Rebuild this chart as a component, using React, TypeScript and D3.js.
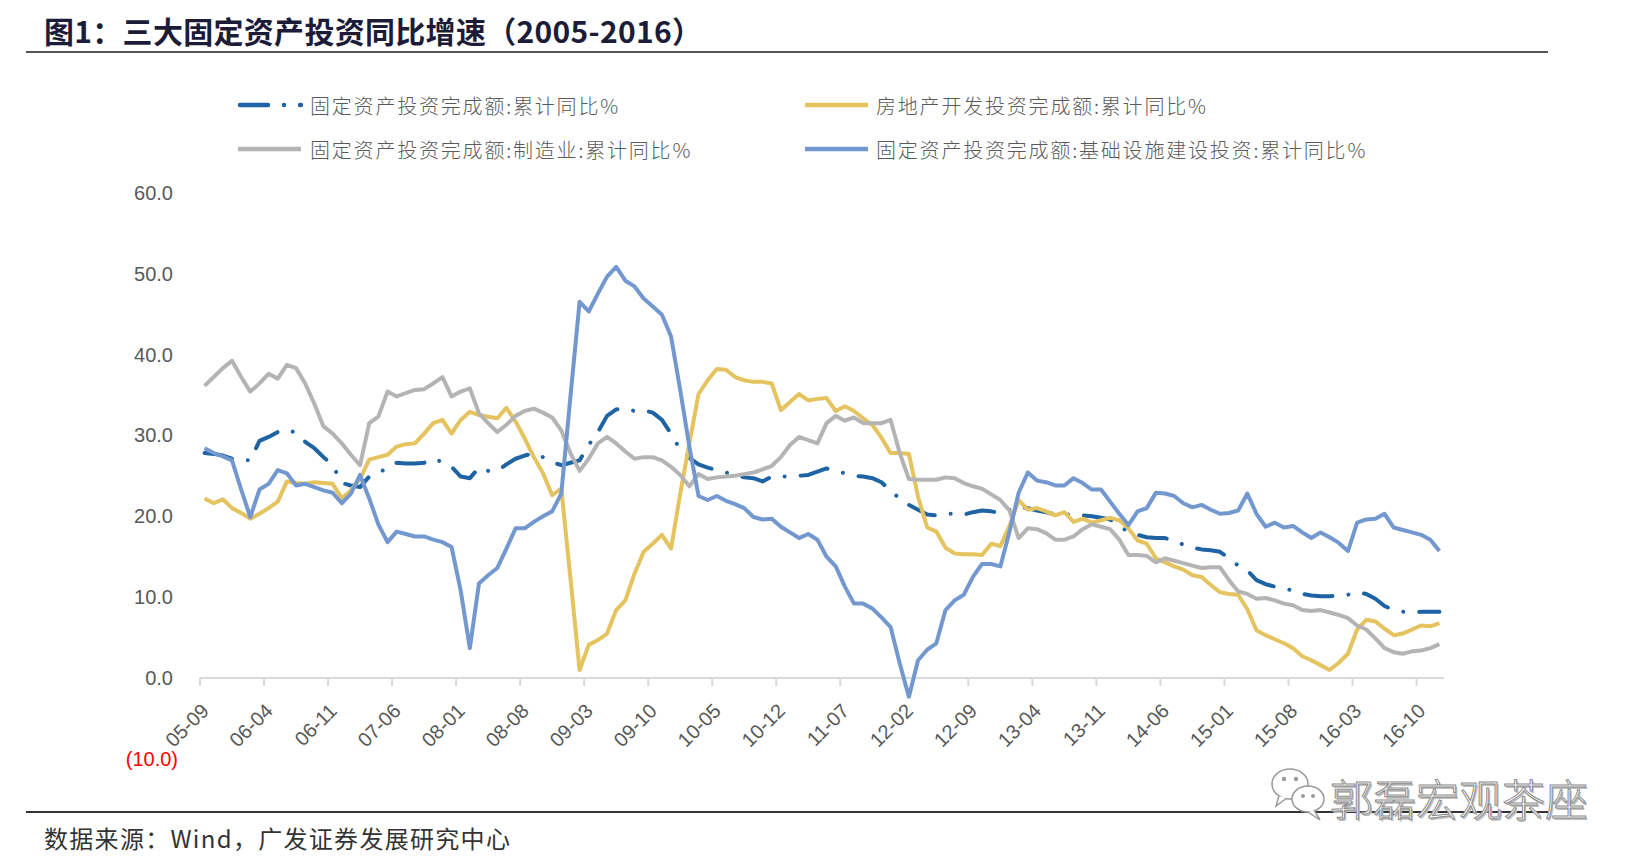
import React from 'react';
import * as d3 from 'd3';

// ---------- categories ----------
const months: string[] = d3.timeMonth
  .range(new Date(2005, 8, 1), new Date(2017, 0, 1))
  .map(d3.timeFormat('%y-%m'));

const tickLabels: string[] = [
  '05-09', '06-04', '06-11', '07-06', '08-01', '08-08', '09-03', '09-10', '10-05', '10-12',
  '11-07', '12-02', '12-09', '13-04', '13-11', '14-06', '15-01', '15-08', '16-03', '16-10',
];

const yTicks: number[] = [60, 50, 40, 30, 20, 10, 0, -10];

// ---------- series (2005-09 .. 2016-12) ----------
const faiTotal: number[] = [
  27.8, 27.7, 27.5, 27.1,
  27.0, 26.9, 29.3, 29.8, 30.4, 30.7, 30.3, 29.2, 28.4, 27.3, 26.3, 24.1,
  23.8, 23.6, 24.9, 25.5, 25.8, 26.6, 26.5, 26.5, 26.6, 27.1, 26.7, 26.1,
  24.9, 24.7, 26.0, 25.6, 25.6, 26.4, 27.1, 27.5, 27.8, 27.3, 26.7, 26.3,
  26.6, 26.9, 28.8, 30.4, 32.4, 33.2, 33.3, 33.0, 33.1, 32.8, 31.9, 30.2,
  28.2, 27.2, 26.4, 26.0, 25.7, 25.4, 25.1, 24.8, 24.7, 24.3, 24.9, 24.9,
  24.9, 25.0, 25.1, 25.5, 25.9, 25.6, 25.3, 25.0, 24.9, 24.7, 24.2, 23.1,
  22.2, 21.4, 20.8, 20.2, 20.1, 20.3, 20.3, 20.2, 20.5, 20.7, 20.6, 20.4,
  20.8, 21.2, 21.0, 20.7, 20.5, 20.2, 20.2, 20.2, 20.1, 20.0, 19.8, 19.6,
  18.9, 18.0, 17.7, 17.4, 17.3, 17.3, 16.9, 16.5, 16.1, 15.9, 15.8, 15.6,
  14.8, 13.9, 13.3, 12.1, 11.6, 11.3, 11.1, 10.8, 10.4, 10.2, 10.1, 10.1,
  10.2, 10.3, 10.6, 10.4, 9.8, 8.9, 8.4, 8.2, 8.1, 8.2, 8.2, 8.2,
];

const realEstate: number[] = [
  22.2, 21.6, 22.1, 21.0,
  20.4, 19.7, 20.3, 21.0, 21.8, 24.3, 24.1, 24.0, 24.2, 24.1, 24.0, 22.2,
  23.2, 24.6, 27.0, 27.3, 27.6, 28.6, 28.9, 29.0, 30.2, 31.5, 31.9, 30.2,
  31.9, 32.9, 32.5, 32.3, 32.1, 33.4, 31.7, 29.6, 27.3, 25.3, 22.6, 23.4,
  12.3, 1.0, 4.1, 4.7, 5.5, 8.4, 9.6, 12.9, 15.6, 16.6, 17.7, 16.0,
  22.8, 29.0, 35.1, 36.8, 38.2, 38.1, 37.2, 36.8, 36.6, 36.6, 36.4, 33.1,
  34.1, 35.1, 34.3, 34.5, 34.6, 33.0, 33.6, 33.0, 32.1, 31.3, 29.7, 27.8,
  27.8, 27.7, 22.4, 18.6, 18.1, 16.1, 15.4, 15.3, 15.3, 15.2, 16.6, 16.3,
  18.8, 22.0, 20.8, 21.0, 20.6, 20.1, 20.5, 19.3, 19.7, 19.2, 19.5, 19.8,
  19.5, 18.5, 17.0, 16.6, 14.8, 14.3, 13.8, 13.4, 12.7, 12.5, 11.5, 10.6,
  10.4, 10.3, 8.5, 5.9, 5.3, 4.8, 4.3, 3.7, 2.7, 2.2, 1.6, 1.0,
  1.9, 3.0, 6.0, 7.2, 7.0, 6.1, 5.3, 5.5, 6.0, 6.5, 6.4, 6.8,
];

const manufacturing: number[] = [
  36.1, 37.2, 38.3, 39.2,
  37.2, 35.4, 36.4, 37.6, 37.0, 38.7, 38.3, 36.4, 33.9, 31.1, 30.2, 29.0,
  27.6, 26.3, 31.5, 32.3, 35.4, 34.8, 35.2, 35.6, 35.7, 36.4, 37.2, 34.8,
  35.4, 35.8, 32.7, 31.5, 30.4, 31.3, 32.4, 33.0, 33.3, 32.8, 32.2, 30.6,
  27.8, 25.6, 27.1, 29.0, 29.8, 29.0, 28.0, 27.1, 27.3, 27.3, 26.9, 26.1,
  25.1, 23.7, 25.2, 24.6, 24.8, 24.9, 25.0, 25.2, 25.4, 25.8, 26.2, 27.3,
  28.8, 29.8, 29.4, 29.0, 31.5, 32.4, 31.8, 32.2, 31.5, 31.5, 31.5, 31.9,
  27.8, 24.6, 24.5, 24.5, 24.5, 24.8, 24.7, 24.1, 23.7, 23.4, 22.7, 22.0,
  20.7, 17.3, 18.5, 18.4, 17.9, 17.1, 17.1, 17.5, 18.4, 19.0, 18.7, 18.4,
  17.1, 15.2, 15.2, 15.1, 14.3, 14.8, 14.5, 14.2, 13.9, 13.6, 13.7, 13.7,
  12.1, 10.7, 10.4, 9.8, 9.9, 9.6, 9.2, 9.0, 8.4, 8.3, 8.4, 8.1,
  7.8, 7.4, 6.5, 6.0, 4.9, 3.7, 3.2, 3.0, 3.3, 3.4, 3.7, 4.2,
];

const infrastructure: number[] = [
  28.4, 27.8, 27.4, 26.9,
  23.3, 19.9, 23.3, 24.0, 25.7, 25.3, 23.8, 24.0, 23.6, 23.2, 22.9, 21.6,
  22.8, 25.1, 22.2, 19.0, 16.8, 18.1, 17.8, 17.5, 17.5, 17.1, 16.8, 16.2,
  10.8, 3.7, 11.7, 12.7, 13.6, 16.0, 18.5, 18.5, 19.3, 20.0, 20.6, 22.8,
  34.8, 46.5, 45.3, 47.5, 49.6, 50.8, 49.1, 48.4, 46.9, 45.9, 44.9, 42.2,
  35.6, 28.6, 22.5, 22.0, 22.5, 21.9, 21.5, 21.0, 19.9, 19.6, 19.7, 18.7,
  18.0, 17.3, 17.8, 17.1, 15.0, 13.8, 11.3, 9.2, 9.2, 8.6, 7.5, 6.3,
  1.8, -2.3, 2.2, 3.5, 4.3, 8.4, 9.6, 10.3, 12.5, 14.1, 14.1, 13.8,
  18.1, 22.9, 25.4, 24.4, 24.2, 23.8, 23.8, 24.7, 24.1, 23.3, 23.3, 21.8,
  20.3, 18.9, 20.6, 21.0, 22.9, 22.8, 22.5, 21.6, 21.1, 21.4, 20.8, 20.3,
  20.4, 20.7, 22.8, 20.3, 18.7, 19.2, 18.6, 18.8, 18.0, 17.3, 18.0, 17.4,
  16.7, 15.7, 19.2, 19.6, 19.7, 20.3, 18.6, 18.3, 18.0, 17.7, 17.1, 15.7,
];

const seriesNames: string[] = [
  '固定资产投资完成额:累计同比%',
  '房地产开发投资完成额:累计同比%',
  '固定资产投资完成额:制造业:累计同比%',
  '固定资产投资完成额:基础设施建设投资:累计同比%',
];
const seriesColors: string[] = ['#1e63a3', '#e5c35f', '#b4b4b4', '#7398cf'];
const seriesValues: number[][] = [faiTotal, realEstate, manufacturing, infrastructure];

// ---------- layout ----------
const W = 1640;
const H = 868;
const X0 = 200;
const X1 = 1444;
const Y_TOP = 192.5;
const Y_BOT = 759;
const DASH_DOT = '28 16 0.01 16';
const NUM_FONT = '"Liberation Sans", Arial, sans-serif';
const CJK_FONT = '"Noto Sans CJK SC", "Noto Sans", sans-serif';

export default function App() {
  const x = d3.scaleBand<string>().domain(months).range([X0, X1]).padding(0);
  const bw = x.bandwidth();
  const y = d3.scaleLinear().domain([-10, 60]).range([Y_BOT, Y_TOP]);
  const y0 = y(0);

  const line = d3
    .line<number>()
    .x((_, i) => (x(months[i]) as number) + bw / 2)
    .y((d) => y(d));

  const legendPos = [
    { lx: 238, tx: 310, ty: 105 },
    { lx: 805, tx: 876, ty: 105 },
    { lx: 238, tx: 310, ty: 149 },
    { lx: 805, tx: 876, ty: 149 },
  ];

  return (
    <>
      <style>{'body{margin:0;background:#fff}'}</style>
      <svg width={W} height={H} viewBox={`0 0 ${W} ${H}`} style={{ display: 'block' }}>
        <rect x={0} y={0} width={W} height={H} fill="#ffffff" />

        {/* title */}
        <text
          x={44}
          y={30}
          dominantBaseline="central"
          fontFamily={CJK_FONT}
          fontWeight={700}
          fontSize={30}
          letterSpacing={0.3}
          fill="#1c1c38"
        >
          图1：三大固定资产投资同比增速（2005-2016）
        </text>
        <line x1={26} x2={1548} y1={52} y2={52} stroke="#555555" strokeWidth={2.2} />

        {/* legend */}
        {seriesNames.map((name, k) => {
          const p = legendPos[k];
          return (
            <g key={name}>
              <line
                x1={p.lx + (k === 0 ? 2 : 0)}
                x2={p.lx + 63}
                y1={p.ty}
                y2={p.ty}
                stroke={seriesColors[k]}
                strokeWidth={4.5}
                strokeLinecap={k === 0 ? 'round' : 'butt'}
                strokeDasharray={k === 0 ? DASH_DOT : undefined}
              />
              <text
                x={p.tx}
                y={p.ty}
                dominantBaseline="central"
                fontFamily={CJK_FONT}
                fontWeight={300}
                fontSize={20}
                letterSpacing={1.8}
                fill="#5a5a5a"
              >
                {name}
              </text>
            </g>
          );
        })}

        {/* y labels */}
        {yTicks.map((t) => (
          <text
            key={t}
            x={t < 0 ? 178 : 173}
            y={y(t)}
            dy="0.36em"
            textAnchor="end"
            fontFamily={NUM_FONT}
            fontSize={20}
            fill={t < 0 ? '#ff0000' : '#595959'}
          >
            {t < 0 ? `(${d3.format('.1f')(-t)})` : d3.format('.1f')(t)}
          </text>
        ))}

        {/* x axis */}
        <line x1={X0} x2={X1} y1={y0} y2={y0} stroke="#d9d9d9" strokeWidth={2} />
        {tickLabels.map((t) => {
          const xt = x(t) as number;
          return (
            <g key={t}>
              <line x1={xt} x2={xt} y1={y0} y2={y0 + 8} stroke="#d9d9d9" strokeWidth={2} />
              <text
                transform={`translate(${xt + 10},${y0 + 34}) rotate(-45)`}
                textAnchor="end"
                fontFamily={NUM_FONT}
                fontSize={20}
                fill="#595959"
              >
                {t}
              </text>
            </g>
          );
        })}

        {/* series */}
        {seriesValues.map((vals, k) => (
          <path
            key={seriesNames[k]}
            d={line(vals) || ''}
            fill="none"
            stroke={seriesColors[k]}
            strokeWidth={4}
            strokeLinejoin="round"
            strokeLinecap={k === 0 ? 'round' : 'butt'}
            strokeDasharray={k === 0 ? DASH_DOT : undefined}
          />
        ))}

        {/* footer */}
        <line x1={26} x2={1548} y1={812} y2={812} stroke="#333333" strokeWidth={2} />
        <text
          x={44}
          y={837}
          dominantBaseline="central"
          fontFamily={CJK_FONT}
          fontSize={24}
          letterSpacing={1.3}
          fill="#333333"
        >
          数据来源：Wind，广发证券发展研究中心
        </text>

        {/* watermark */}
        <g>
          <ellipse cx={1290} cy={784} rx={18} ry={15} fill="#ffffff" stroke="#9a9a9a" strokeWidth={1.5} />
          <path d="M1279,796 L1276,806 L1287,798" fill="#ffffff" stroke="#9a9a9a" strokeWidth={1.5} />
          <circle cx={1284} cy={779} r={2.2} fill="#9a9a9a" />
          <circle cx={1296} cy={779} r={2.2} fill="#9a9a9a" />
          <ellipse cx={1308} cy={799} rx={16} ry={13} fill="#ffffff" stroke="#9a9a9a" strokeWidth={1.5} />
          <path d="M1314,810 L1320,820 L1308,812" fill="#ffffff" stroke="#9a9a9a" strokeWidth={1.5} />
          <circle cx={1303} cy={796} r={2} fill="#9a9a9a" />
          <circle cx={1313} cy={796} r={2} fill="#9a9a9a" />
          <text
            x={1330}
            y={797}
            dx={1.5}
            dy={1.5}
            dominantBaseline="central"
            fontFamily={CJK_FONT}
            fontWeight={300}
            fontSize={43}
            fill="#bdbdbd"
          >
            郭磊宏观茶座
          </text>
          <text
            x={1330}
            y={797}
            dominantBaseline="central"
            fontFamily={CJK_FONT}
            fontWeight={300}
            fontSize={43}
            fill="#ffffff"
            stroke="#8a8a8a"
            strokeWidth={1}
          >
            郭磊宏观茶座
          </text>
        </g>
      </svg>
    </>
  );
}
